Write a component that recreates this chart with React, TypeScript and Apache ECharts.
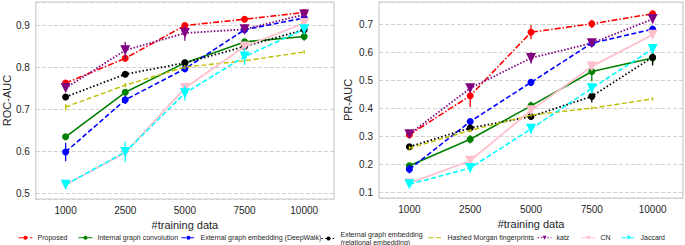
import React, { useEffect, useRef } from 'react';
import * as echarts from 'echarts';

const categories = ['1000', '2500', '5000', '7500', '10000'];

const seriesNames = [
  'Proposed',
  'Internal graph convolution',
  'External graph embedding (DeepWalk)',
  'External graph embedding\n(relational embedding)',
  'Hashed Morgan fingerprints',
  'katz',
  'CN',
  'Jaccard',
];

// ROC-AUC values
const rocProposed = [0.762, 0.821, 0.899, 0.914, 0.930];
const rocInternal = [0.634, 0.740, 0.810, 0.860, 0.873];
const rocDeepWalk = [0.598, 0.722, 0.796, 0.889, 0.917];
const rocRelational = [0.729, 0.783, 0.810, 0.849, 0.889];
const rocMorgan = [0.705, 0.757, 0.800, 0.815, 0.836];
const rocKatz = [0.750, 0.840, 0.881, 0.890, 0.925];
const rocCN = [0.520, 0.596, 0.750, 0.849, 0.905];
const rocJaccard = [0.520, 0.598, 0.738, 0.825, 0.890];

// ROC-AUC error half-widths
const rocErrProposed = [0.005, 0.008, 0.006, 0.004, 0.004];
const rocErrInternal = [0.006, 0.006, 0.006, 0.006, 0.01];
const rocErrDeepWalk = [0.022, 0.01, 0.008, 0.006, 0.005];
const rocErrRelational = [0.005, 0.005, 0.006, 0.006, 0.01];
const rocErrMorgan = [0.007, 0.005, 0.005, 0.004, 0.004];
const rocErrKatz = [0.008, 0.02, 0.018, 0.012, 0.008];
const rocErrCN = [0.005, 0.008, 0.01, 0.012, 0.01];
const rocErrJaccard = [0.006, 0.024, 0.018, 0.02, 0.012];

// PR-AUC values
const prProposed = [0.305, 0.444, 0.671, 0.701, 0.737];
const prInternal = [0.194, 0.289, 0.408, 0.531, 0.579];
const prDeepWalk = [0.182, 0.352, 0.492, 0.632, 0.682];
const prRelational = [0.262, 0.329, 0.370, 0.442, 0.582];
const prMorgan = [0.257, 0.320, 0.375, 0.400, 0.433];
const prKatz = [0.307, 0.471, 0.579, 0.632, 0.718];
const prCN = [0.132, 0.212, 0.392, 0.549, 0.662];
const prJaccard = [0.128, 0.186, 0.326, 0.471, 0.611];

// PR-AUC error half-widths
const prErrProposed = [0.008, 0.04, 0.025, 0.015, 0.012];
const prErrInternal = [0.01, 0.015, 0.015, 0.035, 0.02];
const prErrDeepWalk = [0.015, 0.012, 0.008, 0.008, 0.008];
const prErrRelational = [0.008, 0.012, 0.012, 0.022, 0.03];
const prErrMorgan = [0.008, 0.006, 0.006, 0.006, 0.006];
const prErrKatz = [0.008, 0.015, 0.02, 0.012, 0.015];
const prErrCN = [0.008, 0.01, 0.015, 0.015, 0.012];
const prErrJaccard = [0.008, 0.015, 0.018, 0.02, 0.015];

const rocValues = [rocProposed, rocInternal, rocDeepWalk, rocRelational, rocMorgan, rocKatz, rocCN, rocJaccard];
const rocErrors = [rocErrProposed, rocErrInternal, rocErrDeepWalk, rocErrRelational, rocErrMorgan, rocErrKatz, rocErrCN, rocErrJaccard];
const prValues = [prProposed, prInternal, prDeepWalk, prRelational, prMorgan, prKatz, prCN, prJaccard];
const prErrors = [prErrProposed, prErrInternal, prErrDeepWalk, prErrRelational, prErrMorgan, prErrKatz, prErrCN, prErrJaccard];

const styles = [
  { color: '#ff0000', dash: [6, 2, 1.5, 2], symbol: 'circle', size: 7, rotate: 0, width: 1.6 },
  { color: '#008000', dash: 'solid', symbol: 'circle', size: 7, rotate: 0, width: 1.6 },
  { color: '#0000ff', dash: [5, 2.5], symbol: 'circle', size: 7, rotate: 0, width: 1.6 },
  { color: '#000000', dash: [1.5, 2.2], symbol: 'circle', size: 7, rotate: 0, width: 1.8 },
  { color: '#bfbf00', dash: [5, 2.5], symbol: 'none', size: 0, rotate: 0, width: 1.4 },
  { color: '#800080', dash: [1.5, 1.8], symbol: 'triangle', size: 10, rotate: 180, width: 1.8 },
  { color: '#ffc0cb', dash: 'solid', symbol: 'triangle', size: 10, rotate: 180, width: 1.8 },
  { color: '#00ffff', dash: [5, 2.5], symbol: 'triangle', size: 10, rotate: 180, width: 1.6 },
];

const legendPos = [
  { left: 18, top: 234 },
  { left: 78, top: 234 },
  { left: 181, top: 234 },
  { left: 321, top: 231 },
  { left: 428, top: 234 },
  { left: 537, top: 234 },
  { left: 581, top: 234 },
  { left: 621, top: 234 },
];

const FONT = 'Liberation Sans, Arial, sans-serif';
const TEXT = '#262626';

function buildSeries(values: number[][], errors: number[][], g: number) {
  const out: any[] = [];
  values.forEach((vals, i) => {
    const st = styles[i];
    out.push({
      type: 'custom',
      xAxisIndex: g,
      yAxisIndex: g,
      silent: true,
      z: 2 + i * 0.1,
      data: vals.map((v, k) => [k, v - errors[i][k], v + errors[i][k]]),
      encode: { x: 0, y: [1, 2] },
      renderItem: (params: any, api: any) => {
        const a = api.coord([api.value(0), api.value(1)]);
        const b = api.coord([api.value(0), api.value(2)]);
        return {
          type: 'line',
          shape: { x1: a[0], y1: a[1], x2: b[0], y2: b[1] },
          style: { stroke: st.color, lineWidth: 1.3 },
        };
      },
    });
    out.push({
      type: 'line',
      name: seriesNames[i],
      xAxisIndex: g,
      yAxisIndex: g,
      z: 2 + i * 0.1 + 0.05,
      data: vals,
      symbol: st.symbol,
      symbolSize: st.size,
      symbolRotate: st.rotate,
      showSymbol: st.symbol !== 'none',
      lineStyle: { color: st.color, width: st.width, type: st.dash as any },
      itemStyle: { color: st.color, borderWidth: 0 },
      emphasis: { disabled: true },
    });
  });
  return out;
}

function xAxis(g: number) {
  return {
    type: 'category',
    gridIndex: g,
    data: categories,
    boundaryGap: true,
    axisLine: { show: false },
    axisTick: { show: false },
    splitLine: { show: false },
    axisLabel: { fontSize: 10, color: TEXT, fontFamily: FONT, margin: 6 },
    name: '#training data',
    nameLocation: 'middle',
    nameGap: 17,
    nameTextStyle: { fontSize: 11, color: TEXT, fontFamily: FONT },
  };
}

function yAxis(g: number, min: number, max: number, name: string, gap: number) {
  return {
    type: 'value',
    gridIndex: g,
    min,
    max,
    splitNumber: 5,
    axisLine: { show: false },
    axisTick: { show: false },
    splitLine: { show: true, lineStyle: { color: '#cccccc', type: [4, 2], width: 0.9 } },
    axisLabel: {
      fontSize: 10,
      color: TEXT,
      fontFamily: FONT,
      margin: 6,
      showMinLabel: false,
      showMaxLabel: false,
      formatter: (v: number) => v.toFixed(1),
    },
    name,
    nameLocation: 'middle',
    nameGap: gap,
    nameTextStyle: { fontSize: 11, color: TEXT, fontFamily: FONT },
  };
}

export default function App() {
  const ref = useRef<HTMLDivElement>(null);
  useEffect(() => {
    if (!ref.current) return;
    const chart = echarts.init(ref.current, null, { renderer: 'svg' });
    chart.setOption({
      animation: false,
      backgroundColor: '#ffffff',
      textStyle: { fontFamily: FONT },
      grid: [
        { left: 32, top: 2, width: 302, height: 197, show: true, borderColor: '#cccccc', borderWidth: 1.2, backgroundColor: '#ffffff' },
        { left: 379, top: 2, width: 304, height: 196, show: true, borderColor: '#cccccc', borderWidth: 1.2, backgroundColor: '#ffffff' },
      ],
      xAxis: [xAxis(0), xAxis(1)],
      yAxis: [yAxis(0, 0.486, 0.955, 'ROC-AUC', 23), yAxis(1, 0.079, 0.779, 'PR-AUC', 26)],
      legend: seriesNames.map((name, i) => ({
        data: [styles[i].symbol === 'none' ? { name, itemStyle: { opacity: 0 } } : name],
        left: legendPos[i].left,
        top: legendPos[i].top,
        padding: 0,
        itemGap: 0,
        itemWidth: 14,
        itemHeight: 5,
        selectedMode: false,
        lineStyle: { width: 1 },
        textStyle: { fontSize: 7, color: TEXT, fontFamily: FONT, lineHeight: 7.5 },
      })),
      series: [...buildSeries(rocValues, rocErrors, 0), ...buildSeries(prValues, prErrors, 1)],
    });
    return () => chart.dispose();
  }, []);
  return <div ref={ref} style={{ position: 'fixed', left: 0, top: 0, width: 685, height: 245 }} />;
}
